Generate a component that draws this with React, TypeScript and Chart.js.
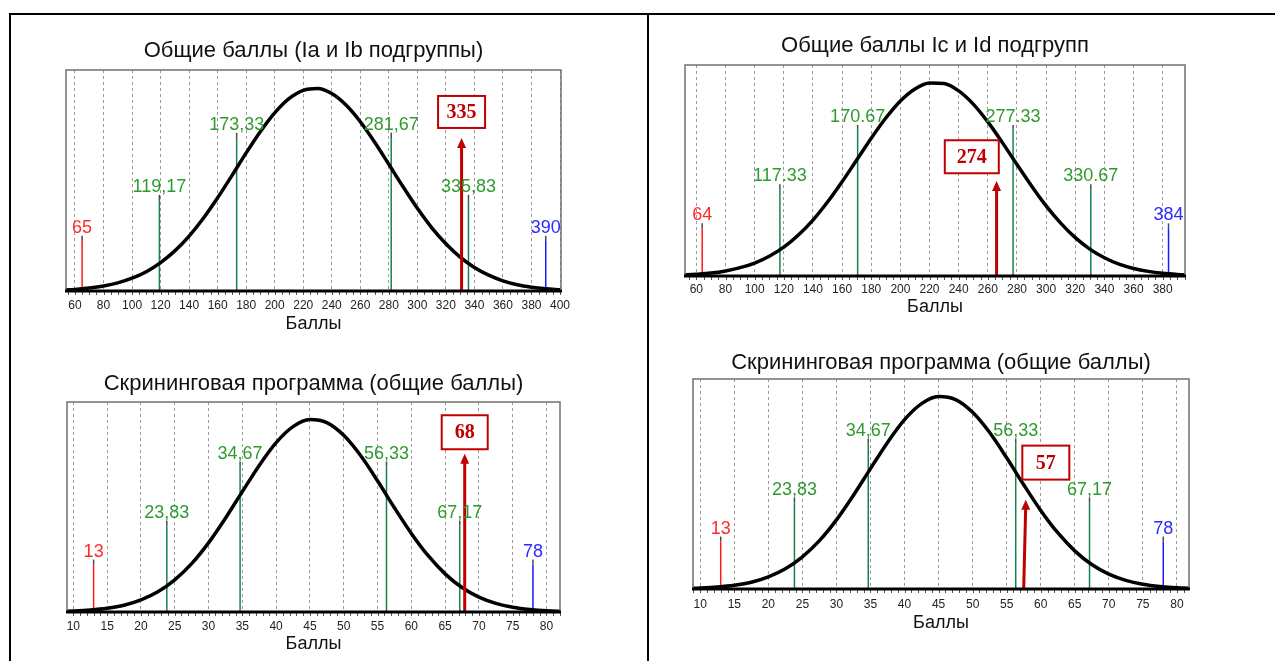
import React, { useEffect, useRef } from "react";
import { Chart, registerables } from "chart.js";
Chart.register(...registerables);

const FONT = '"Liberation Sans", Arial, Helvetica, sans-serif';
const SERIF = '"Liberation Serif", "Times New Roman", serif';

// ---------- Data ----------
// Chart A: Общие баллы (Ia и Ib подгруппы)
const curveA_x = [50, 60, 70, 80, 90, 100, 110, 120, 130, 140, 150, 160, 170, 180, 190, 200, 210, 220, 230, 240, 250, 260, 270, 280, 290, 300, 310, 320, 330, 340, 350, 360, 370, 380, 390, 400];
const curveA_y = [0.5, 0.8, 1.5, 2.5, 4.0, 6.3, 9.5, 14.0, 19.8, 27.1, 35.9, 46.0, 56.9, 68.1, 78.7, 87.9, 94.9, 99.0, 99.9, 97.4, 91.7, 83.5, 73.5, 62.5, 51.4, 40.8, 31.3, 23.3, 16.7, 11.6, 7.8, 5.0, 3.1, 1.9, 1.1, 0.6];
const ticksA = [60, 80, 100, 120, 140, 160, 180, 200, 220, 240, 260, 280, 300, 320, 340, 360, 380, 400];
const marksA = [65, 119.17, 173.33, 281.67, 335.83, 390];
const markLabelsA = ["65", "119,17", "173,33", "281,67", "335,83", "390"];
const scoreA_label = "335";
const scoreA_arrow = [331, 331]; // base x, tip x

// Chart B: Общие баллы Ic и Id подгрупп
const curveB_x = [50, 60, 70, 80, 90, 100, 110, 120, 130, 140, 150, 160, 170, 180, 190, 200, 210, 220, 230, 240, 250, 260, 270, 280, 290, 300, 310, 320, 330, 340, 350, 360, 370, 380, 390, 400];
const curveB_y = [0.5, 0.9, 1.5, 2.6, 4.3, 6.7, 10.2, 14.9, 21.2, 28.9, 38.2, 48.7, 59.9, 71.2, 81.6, 90.4, 96.6, 99.7, 99.4, 95.6, 88.8, 79.6, 68.9, 57.6, 46.5, 36.2, 27.3, 19.8, 13.9, 9.4, 6.1, 3.9, 2.4, 1.4, 0.8, 0.4];
const ticksB = [60, 80, 100, 120, 140, 160, 180, 200, 220, 240, 260, 280, 300, 320, 340, 360, 380];
const marksB = [64, 117.33, 170.67, 277.33, 330.67, 384];
const markLabelsB = ["64", "117.33", "170.67", "277.33", "330.67", "384"];
const scoreB_label = "274";
const scoreB_arrow = [266, 266];

// Charts C and D: Скрининговая программа (общие баллы)
const curveS_x = [7.5, 10, 12.5, 15, 17.5, 20, 22.5, 25, 27.5, 30, 32.5, 35, 37.5, 40, 42.5, 45, 47.5, 50, 52.5, 55, 57.5, 60, 62.5, 65, 67.5, 70, 72.5, 75, 77.5, 80, 82.5];
const curveS_y = [0.2, 0.5, 1.0, 1.9, 3.5, 6.3, 10.5, 16.7, 25.1, 35.9, 48.7, 62.5, 76.1, 87.9, 96.2, 99.9, 98.3, 91.7, 81.2, 68.1, 54.1, 40.8, 29.2, 19.8, 12.7, 7.7, 4.5, 2.5, 1.3, 0.6, 0.3];
const ticksS = [10, 15, 20, 25, 30, 35, 40, 45, 50, 55, 60, 65, 70, 75, 80];
const marksS = [13, 23.83, 34.67, 56.33, 67.17, 78];
const markLabelsS = ["13", "23,83", "34,67", "56,33", "67,17", "78"];
const scoreC_label = "68";
const scoreC_arrow = [67.9, 67.9];
const scoreD_label = "57";
const scoreD_arrow = [57.5, 57.8];

// marker heights (relative to curve peak = 100) and kinds
const markHeights = [27.2, 47.4, 78, 78, 47.4, 27.2];
const markKinds = ["min", "mid", "mid", "mid", "mid", "max"];

// ---------- Styles ----------
const COLORS: Record<string, { text: string; line: string }> = {
  min: { text: "#ff2b2b", line: "#ff1a1a" },
  mid: { text: "#2f9a2f", line: "#17834a" },
  max: { text: "#2b2bff", line: "#1a1aff" },
};
const TIP = "#4a4a4a";
const ARROW = "#c00000";

type Cfg = {
  title: string;
  cx: number[]; cy: number[];
  ticks: number[];
  marks: number[]; markLabels: string[];
  scoreLabel: string; arrow: number[];
  arrowTop: number; box: { x: number; y: number; w: number; h: number };
  xmin: number; xmax: number; minorStep: number;
  L: { plotLeft: number; plotRight: number; plotTop: number; plotBottom: number; titleY: number; ticksY: number; axisTitleY: number };
};

const charts: Cfg[] = [
  {
    title: "Общие баллы (Ia и Ib подгруппы)",
    cx: curveA_x, cy: curveA_y, ticks: ticksA, marks: marksA, markLabels: markLabelsA,
    scoreLabel: scoreA_label, arrow: scoreA_arrow, arrowTop: 75.5,
    box: { x: 331, y: 88.3, w: 47, h: 32 },
    xmin: 53.7, xmax: 400.7, minorStep: 5,
    L: { plotLeft: 66, plotRight: 561, plotTop: 70, plotBottom: 291, titleY: 50.5, ticksY: 306, axisTitleY: 324 },
  },
  {
    title: "Общие баллы Ic и Id подгрупп",
    cx: curveB_x, cy: curveB_y, ticks: ticksB, marks: marksB, markLabels: markLabelsB,
    scoreLabel: scoreB_label, arrow: scoreB_arrow, arrowTop: 49.1,
    box: { x: 249, y: 61.6, w: 54, h: 33 },
    xmin: 52.2, xmax: 395.3, minorStep: 5,
    L: { plotLeft: 684.5, plotRight: 1184.8, plotTop: 65, plotBottom: 276, titleY: 46.3, ticksY: 289.7, axisTitleY: 306.7 },
  },
  {
    title: "Скрининговая программа (общие баллы)",
    cx: curveS_x, cy: curveS_y, ticks: ticksS, marks: marksS, markLabels: markLabelsS,
    scoreLabel: scoreC_label, arrow: scoreC_arrow, arrowTop: 82.2,
    box: { x: 67.9, y: 93.3, w: 46, h: 34 },
    xmin: 9.06, xmax: 82.0, minorStep: 1,
    L: { plotLeft: 67.3, plotRight: 559.8, plotTop: 401.7, plotBottom: 611.7, titleY: 384, ticksY: 626.7, axisTitleY: 643.7 },
  },
  {
    title: "Скрининговая программа (общие баллы)",
    cx: curveS_x, cy: curveS_y, ticks: ticksS, marks: marksS, markLabels: markLabelsS,
    scoreLabel: scoreD_label, arrow: scoreD_arrow, arrowTop: 46.3,
    box: { x: 60.75, y: 65.6, w: 47, h: 34 },
    xmin: 8.93, xmax: 81.78, minorStep: 1,
    L: { plotLeft: 692.7, plotRight: 1188.8, plotTop: 379.3, plotBottom: 589, titleY: 362.5, ticksY: 605, axisTitleY: 623.3 },
  },
];

const M = 30;
function geom(L: Cfg["L"]) {
  const canvasLeft = Math.round(L.plotLeft) - M;
  const canvasWidth = Math.round(L.plotRight) - Math.round(L.plotLeft) + 2 * M;
  const titlePadTop = 4;
  const canvasTop = Math.round(L.titleY - 11 - titlePadTop);
  const titlePadBottom = Math.round(L.plotTop) - canvasTop - titlePadTop - 22;
  const tickLen = Math.round(L.ticksY - L.plotBottom - 6);
  const axTitlePadTop = Math.round(L.axisTitleY - 9 - (Math.round(L.plotBottom) + tickLen + 12));
  const canvasBottom = Math.round(L.axisTitleY + 9 + 3);
  return { canvasLeft, canvasWidth, canvasTop, canvasHeight: canvasBottom - canvasTop, titlePadTop, titlePadBottom, tickLen, axTitlePadTop };
}

function makeDecor(cfg: Cfg) {
  return {
    id: "decor",
    afterDatasetsDraw(chart: any) {
      const { ctx, chartArea: a } = chart;
      const x = chart.scales.x, y = chart.scales.y;
      ctx.save();
      // minor ticks under the axis
      ctx.strokeStyle = "#555";
      ctx.lineWidth = 1;
      const first = Math.ceil(x.min / cfg.minorStep) * cfg.minorStep;
      for (let v = first; v <= x.max + 1e-9; v += cfg.minorStep) {
        const px = Math.round(x.getPixelForValue(v)) + 0.5;
        ctx.beginPath();
        ctx.moveTo(px, a.bottom);
        ctx.lineTo(px, a.bottom + 4);
        ctx.stroke();
      }
      // frame
      ctx.strokeStyle = "#707070";
      ctx.lineWidth = 1.5;
      ctx.strokeRect(a.left, a.top, a.right - a.left, a.bottom - a.top);
      ctx.strokeStyle = "#000";
      ctx.lineWidth = 3;
      ctx.beginPath();
      ctx.moveTo(a.left - 1, a.bottom);
      ctx.lineTo(a.right + 1, a.bottom);
      ctx.stroke();
      // marker labels
      ctx.font = `18px ${FONT}`;
      ctx.textAlign = "center";
      ctx.textBaseline = "alphabetic";
      cfg.marks.forEach((v, i) => {
        const px = x.getPixelForValue(v);
        const py = y.getPixelForValue(markHeights[i]);
        ctx.fillStyle = COLORS[markKinds[i]].text;
        ctx.fillText(cfg.markLabels[i], px, py - 3);
      });
      // arrow head
      const tx = x.getPixelForValue(cfg.arrow[1]);
      const ty = y.getPixelForValue(cfg.arrowTop);
      ctx.fillStyle = ARROW;
      ctx.beginPath();
      ctx.moveTo(tx, ty);
      ctx.lineTo(tx - 4.5, ty + 10);
      ctx.lineTo(tx + 4.5, ty + 10);
      ctx.closePath();
      ctx.fill();
      // score box
      const bx = x.getPixelForValue(cfg.box.x);
      const by = y.getPixelForValue(cfg.box.y);
      const { w, h } = cfg.box;
      ctx.fillStyle = "#fff";
      ctx.fillRect(bx - w / 2, by - h / 2, w, h);
      ctx.strokeStyle = ARROW;
      ctx.lineWidth = 2;
      ctx.strokeRect(bx - w / 2, by - h / 2, w, h);
      ctx.fillStyle = ARROW;
      ctx.font = `bold 20px ${SERIF}`;
      ctx.textBaseline = "middle";
      ctx.fillText(cfg.scoreLabel, bx, by + 1);
      ctx.restore();
    },
  };
}

function DistChart({ cfg }: { cfg: Cfg }) {
  const ref = useRef<HTMLCanvasElement>(null);
  const g = geom(cfg.L);
  useEffect(() => {
    if (!ref.current) return;
    const datasets: any[] = [];
    // score arrow (top)
    datasets.push({
      data: [{ x: cfg.arrow[0], y: 0 }, { x: cfg.arrow[1], y: cfg.arrowTop - 3 }],
      borderColor: ARROW, borderWidth: 3, pointRadius: 0, order: 0,
    });
    // distribution curve
    datasets.push({
      data: cfg.cx.map((v, i) => ({ x: v, y: cfg.cy[i] })),
      borderColor: "#000", borderWidth: 3.5, pointRadius: 0,
      cubicInterpolationMode: "monotone", borderJoinStyle: "round", order: 1,
    });
    // marker lines
    cfg.marks.forEach((v, i) => {
      const col = COLORS[markKinds[i]].line;
      datasets.push({
        data: [{ x: v, y: 0 }, { x: v, y: markHeights[i] - 2.5 }, { x: v, y: markHeights[i] }],
        borderColor: col, borderWidth: 1.5, pointRadius: 0, order: 2,
        segment: { borderColor: (c: any) => (c.p0DataIndex === 1 ? TIP : col) },
      });
    });
    const chart = new Chart(ref.current, {
      type: "line",
      data: { datasets },
      options: {
        animation: false,
        responsive: true,
        maintainAspectRatio: false,
        events: [],
        layout: { padding: { left: M, right: M, top: 0, bottom: 0 } },
        plugins: {
          legend: { display: false },
          tooltip: { enabled: false },
          title: {
            display: true,
            text: cfg.title,
            color: "#111",
            font: { family: FONT, size: 22, weight: "normal", lineHeight: 1 },
            padding: { top: g.titlePadTop, bottom: g.titlePadBottom },
          },
        },
        scales: {
          x: {
            type: "linear",
            min: cfg.xmin,
            max: cfg.xmax,
            afterBuildTicks: (s: any) => {
              s.ticks = cfg.ticks.map((v) => ({ value: v }));
            },
            ticks: {
              autoSkip: false, maxRotation: 0, padding: 0, color: "#222",
              font: { family: FONT, size: 12, lineHeight: 1 },
            },
            grid: {
              display: true, color: "#9a9a9a", lineWidth: 1,
              drawTicks: true, tickLength: g.tickLen, tickWidth: 0,
            },
            border: { display: false, dash: [3, 3] },
            title: {
              display: true, text: "Баллы", color: "#111",
              font: { family: FONT, size: 18, lineHeight: 1 },
              padding: { top: g.axTitlePadTop, bottom: 3 },
            },
          },
          y: { display: false, min: 0, max: 109 },
        },
      },
      plugins: [makeDecor(cfg)],
    } as any);
    return () => chart.destroy();
  }, []);
  return (
    <div style={{ position: "absolute", left: g.canvasLeft, top: g.canvasTop, width: g.canvasWidth, height: g.canvasHeight }}>
      <canvas ref={ref} />
    </div>
  );
}

export default function App() {
  return (
    <div style={{ position: "fixed", left: 0, top: 0, width: 1275, height: 661, background: "#fff", overflow: "hidden" }}>
      <div style={{ position: "absolute", left: 9, top: 13, width: 1266, height: 2, background: "#000" }} />
      <div style={{ position: "absolute", left: 9, top: 13, width: 2, height: 648, background: "#000" }} />
      <div style={{ position: "absolute", left: 647, top: 13, width: 2, height: 648, background: "#000" }} />
      {charts.map((c, i) => (
        <DistChart key={i} cfg={c} />
      ))}
    </div>
  );
}
